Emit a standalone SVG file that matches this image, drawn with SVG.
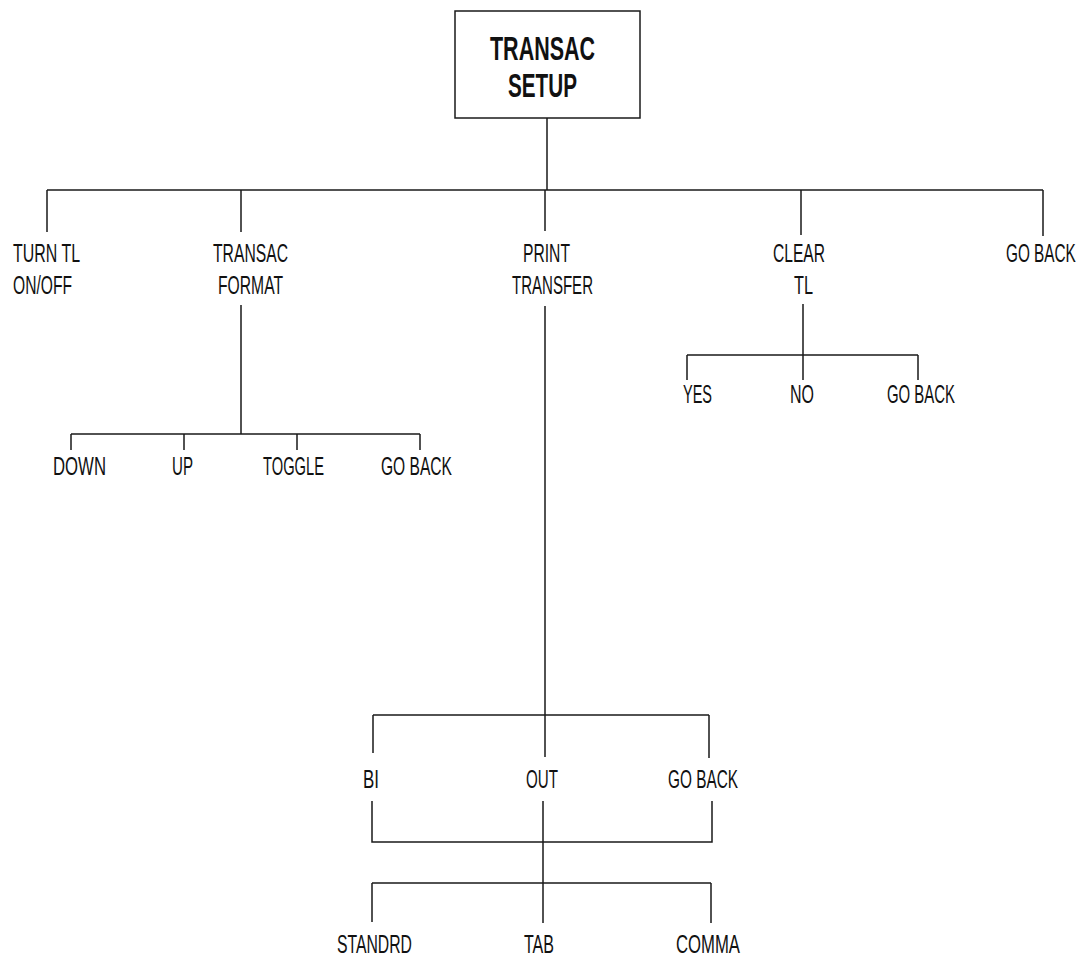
<svg xmlns="http://www.w3.org/2000/svg" width="1083" height="958" viewBox="0 0 1083 958">
<style>
.ln{stroke:#1a1a1a;stroke-width:1.5;fill:none;stroke-linecap:butt}
.t{font-family:"Liberation Sans","DejaVu Sans",sans-serif;font-size:26px;fill:#111}
.b{font-family:"Liberation Sans","DejaVu Sans",sans-serif;font-size:34px;font-weight:bold;fill:#111}
.box{fill:#fff;stroke:#1a1a1a;stroke-width:1.5}
</style>
<rect width="1083" height="958" fill="#fff"/>
<g id="connectors" class="ln">
<path d="M547 118V190M47 190H1043M47 190V232M241 190V232M545 190V231M801 190V235M1043 190V236"/>
<path d="M241 305V434M71 434H420M71 434V450M184 434V450M297 434V450M420 434V450"/>
<path d="M545 306V715M373 715H709M373 715V753M545 715V757M709 715V758"/>
<path d="M803 304V355M687 355H918M687 355V380M803 355V380M918 355V380"/>
<path d="M372 801V842H712V801M543 801V923M372 883H711M372 883V922M711 883V923"/>
</g>
<g id="root">
<rect class="box" x="455" y="11" width="185" height="107"/>
<text class="b" x="490" y="60" textLength="105" lengthAdjust="spacingAndGlyphs">TRANSAC</text>
<text class="b" x="508" y="97" textLength="69" lengthAdjust="spacingAndGlyphs">SETUP</text>
</g>
<g id="turn-tl">
<text class="t" x="13" y="262" textLength="67" lengthAdjust="spacingAndGlyphs">TURN TL</text>
<text class="t" x="13" y="294" textLength="59" lengthAdjust="spacingAndGlyphs">ON/OFF</text>
</g>
<g id="transac-format">
<text class="t" x="213" y="262" textLength="75" lengthAdjust="spacingAndGlyphs">TRANSAC</text>
<text class="t" x="218" y="294" textLength="65" lengthAdjust="spacingAndGlyphs">FORMAT</text>
</g>
<g id="print-transfer">
<text class="t" x="523" y="262" textLength="47" lengthAdjust="spacingAndGlyphs">PRINT</text>
<text class="t" x="512" y="294" textLength="81" lengthAdjust="spacingAndGlyphs">TRANSFER</text>
</g>
<g id="clear-tl">
<text class="t" x="773" y="262" textLength="52" lengthAdjust="spacingAndGlyphs">CLEAR</text>
<text class="t" x="794" y="294" textLength="19" lengthAdjust="spacingAndGlyphs">TL</text>
</g>
<g id="go-back-top">
<text class="t" transform="translate(1006,262) scale(0.59,1)" x="0" y="0">GO BACK</text>
</g>
<g id="down"><text class="t" x="53" y="475" textLength="53" lengthAdjust="spacingAndGlyphs">DOWN</text></g>
<g id="up"><text class="t" x="172" y="475" textLength="21" lengthAdjust="spacingAndGlyphs">UP</text></g>
<g id="toggle"><text class="t" x="263" y="475" textLength="61" lengthAdjust="spacingAndGlyphs">TOGGLE</text></g>
<g id="go-back-format"><text class="t" x="381" y="475" textLength="71" lengthAdjust="spacingAndGlyphs">GO BACK</text></g>
<g id="yes"><text class="t" x="683" y="403" textLength="29" lengthAdjust="spacingAndGlyphs">YES</text></g>
<g id="no"><text class="t" x="790" y="403" textLength="24" lengthAdjust="spacingAndGlyphs">NO</text></g>
<g id="go-back-clear"><text class="t" x="887" y="403" textLength="68" lengthAdjust="spacingAndGlyphs">GO BACK</text></g>
<g id="bi"><text class="t" x="363" y="788" textLength="16" lengthAdjust="spacingAndGlyphs">BI</text></g>
<g id="out"><text class="t" x="526" y="788" textLength="32" lengthAdjust="spacingAndGlyphs">OUT</text></g>
<g id="go-back-print"><text class="t" x="668" y="788" textLength="70" lengthAdjust="spacingAndGlyphs">GO BACK</text></g>
<g id="standrd"><text class="t" x="337" y="953" textLength="75" lengthAdjust="spacingAndGlyphs">STANDRD</text></g>
<g id="tab"><text class="t" x="524" y="953" textLength="30" lengthAdjust="spacingAndGlyphs">TAB</text></g>
<g id="comma"><text class="t" x="676" y="953" textLength="64" lengthAdjust="spacingAndGlyphs">COMMA</text></g>
</svg>
